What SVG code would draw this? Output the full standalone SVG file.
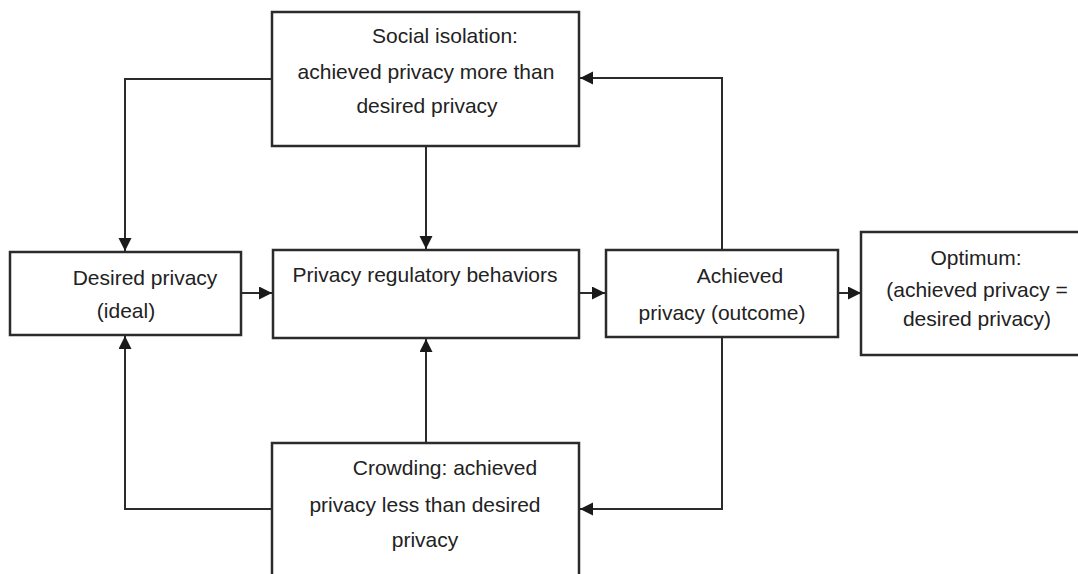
<svg xmlns="http://www.w3.org/2000/svg" width="1078" height="574" viewBox="0 0 1078 574">
<style>
.box{fill:#fff;stroke:#2b2b2b;stroke-width:2.5}
.lbl{font-family:"Liberation Sans",Arial,sans-serif;font-size:21px;fill:#222;text-anchor:middle}
.con{fill:none;stroke:#2b2b2b;stroke-width:2}
</style>
<defs>
<marker id="ah" markerUnits="userSpaceOnUse" markerWidth="14" markerHeight="14" refX="13" refY="6.5" orient="auto">
<path d="M0,0 L13,6.5 L0,13 z" fill="#1a1a1a"/>
</marker>
</defs>
<rect width="1078" height="574" fill="#fff"/>
<g id="connectors">
<path class="con" d="M272,79 H125 V251" marker-end="url(#ah)"/>
<path class="con" d="M426,146 V249" marker-end="url(#ah)"/>
<path class="con" d="M722,250 V78 H580" marker-end="url(#ah)"/>
<path class="con" d="M241,293 H272" marker-end="url(#ah)"/>
<path class="con" d="M579,293 H605" marker-end="url(#ah)"/>
<path class="con" d="M838,293 H861" marker-end="url(#ah)"/>
<path class="con" d="M272,509 H125 V336" marker-end="url(#ah)"/>
<path class="con" d="M426,443 V339" marker-end="url(#ah)"/>
<path class="con" d="M722,337 V509 H580" marker-end="url(#ah)"/>
</g>
<g id="social-isolation">
<rect class="box" x="272" y="12" width="307" height="134"/>
<text class="lbl" x="445" y="43">Social isolation:</text>
<text class="lbl" x="426" y="79">achieved privacy more than</text>
<text class="lbl" x="427" y="113">desired privacy</text>
</g>
<g id="desired-privacy">
<rect class="box" x="10" y="252" width="231" height="83"/>
<text class="lbl" x="145" y="285">Desired privacy</text>
<text class="lbl" x="126" y="318">(ideal)</text>
</g>
<g id="privacy-regulatory-behaviors">
<rect class="box" x="273" y="250" width="306" height="88"/>
<text class="lbl" x="425" y="282">Privacy regulatory behaviors</text>
</g>
<g id="achieved-privacy">
<rect class="box" x="606" y="250" width="232" height="87"/>
<text class="lbl" x="740" y="283">Achieved</text>
<text class="lbl" x="722" y="320">privacy (outcome)</text>
</g>
<g id="optimum">
<rect class="box" x="861" y="232" width="220" height="123"/>
<text class="lbl" x="976" y="265">Optimum:</text>
<text class="lbl" x="977" y="297">(achieved privacy =</text>
<text class="lbl" x="977" y="326">desired privacy)</text>
</g>
<g id="crowding">
<rect class="box" x="272" y="443" width="307" height="140"/>
<text class="lbl" x="445" y="475">Crowding: achieved</text>
<text class="lbl" x="425" y="512">privacy less than desired</text>
<text class="lbl" x="425" y="547">privacy</text>
</g>
</svg>
